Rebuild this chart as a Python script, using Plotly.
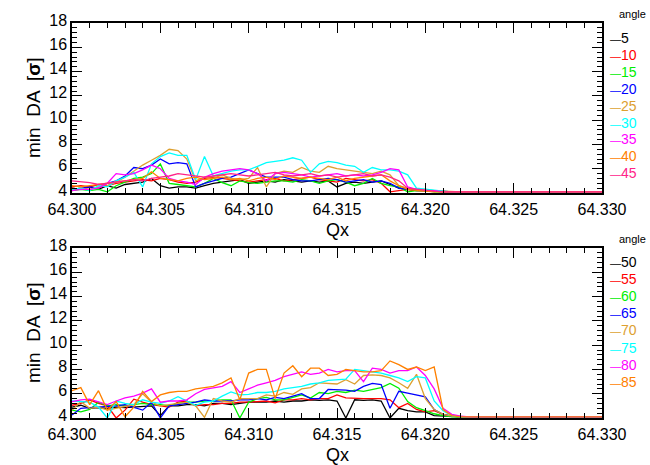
import plotly.graph_objects as go

# ---------------- data ----------------
qx = [64.3000, 64.3005, 64.3010, 64.3015, 64.3020, 64.3025, 64.3030, 64.3035, 64.3040, 64.3045,
      64.3050, 64.3055, 64.3060, 64.3065, 64.3070, 64.3075, 64.3080, 64.3085, 64.3090, 64.3095,
      64.3100, 64.3105, 64.3110, 64.3115, 64.3120, 64.3125, 64.3130, 64.3135, 64.3140, 64.3145,
      64.3150, 64.3155, 64.3160, 64.3165, 64.3170, 64.3175, 64.3180, 64.3185, 64.3190, 64.3195,
      64.3200, 64.3205, 64.3210, 64.3215, 64.3220, 64.3225, 64.3230, 64.3235, 64.3240, 64.3245,
      64.3250, 64.3255, 64.3260, 64.3265, 64.3270, 64.3275, 64.3280, 64.3285, 64.3290, 64.3295,
      64.3300]

angles_top = ["5", "10", "15", "20", "25", "30", "35", "40", "45"]
angles_bot = ["50", "55", "60", "65", "70", "75", "80", "85"]

da_5 = [4.4, 4.3, 4.5, 4.3, 4.6, 4.4, 4.7, 4.8, 4.9, 5.2,
        4.6, 4.4, 4.5, 4.5, 4.4, 4.6, 4.8, 4.9, 5.0, 5.1,
        4.8, 4.9, 5.0, 4.9, 5.1, 5.0, 4.9, 5.0, 4.9, 5.0,
        4.5, 4.8, 4.9, 4.8, 4.9, 5.0, 4.7, 4.4, 4.3, 4.2,
        4.2, 4.15, 4.1, 4.1, 4.1, 4.1, 4.1, 4.1, 4.1, 4.1,
        4.1, 4.1, 4.1, 4.1, 4.1, 4.1, 4.1, 4.1, 4.1, 4.1, 4.1]
da_10 = [4.5, 4.6, 4.5, 4.7, 4.6, 4.8, 4.9, 5.0, 5.1, 5.0,
         5.2, 5.1, 4.9, 4.8, 4.9, 5.2, 5.3, 5.2, 5.1, 5.0,
         4.9, 5.0, 5.1, 5.2, 5.0, 5.1, 5.2, 5.3, 5.1, 5.0,
         4.9, 5.2, 5.1, 5.0, 5.1, 4.8, 4.1, 4.2, 4.3, 4.2,
         4.2, 4.15, 4.1, 4.1, 4.1, 4.1, 4.1, 4.1, 4.1, 4.1,
         4.1, 4.1, 4.1, 4.1, 4.1, 4.1, 4.1, 4.1, 4.1, 4.1, 4.1]
da_15 = [4.2, 4.3, 4.2, 4.3, 4.1, 4.6, 4.9, 5.2, 5.3, 5.6,
         6.4, 4.8, 4.7, 4.6, 4.5, 4.8, 5.2, 4.85, 4.6, 5.0,
         4.85, 4.8, 4.9, 5.0, 5.0, 4.9, 5.1, 5.0, 4.8, 5.0,
         5.1, 4.9, 4.6, 4.8, 5.2, 4.8, 4.6, 4.5, 4.1, 4.2,
         4.2, 4.1, 4.1, 4.1, 4.1, 4.1, 4.1, 4.1, 4.1, 4.1,
         4.1, 4.1, 4.1, 4.1, 4.1, 4.1, 4.1, 4.1, 4.1, 4.1, 4.1]
da_20 = [4.3, 4.4, 4.5, 4.4, 4.8, 5.0, 5.4, 6.1, 6.0, 6.3,
         6.8, 6.4, 6.5, 6.4, 4.5, 4.8, 5.0, 5.2, 5.3, 5.6,
         5.9, 5.6, 5.3, 5.3, 5.3, 5.1, 5.0, 5.0, 5.1, 5.2,
         5.1, 4.9, 5.0, 5.1, 4.9, 5.0, 4.8, 4.4, 4.3, 4.3,
         4.2, 4.2, 4.15, 4.1, 4.1, 4.1, 4.1, 4.1, 4.1, 4.1,
         4.1, 4.1, 4.1, 4.1, 4.1, 4.1, 4.1, 4.1, 4.1, 4.1, 4.1]
da_25 = [4.3, 4.4, 4.3, 4.5, 4.6, 4.9, 5.3, 5.8, 6.3, 6.7,
         7.1, 7.6, 7.5, 6.8, 5.0, 5.3, 5.2, 5.5, 5.2, 5.1,
         5.2, 6.1, 4.5, 5.6, 5.8, 5.7, 6.1, 5.8, 5.7, 6.2,
         6.0, 5.9, 5.8, 5.7, 5.6, 5.8, 5.5, 4.6, 4.4, 4.3,
         4.3, 4.2, 4.15, 4.1, 4.1, 4.1, 4.1, 4.1, 4.1, 4.1,
         4.1, 4.1, 4.1, 4.1, 4.1, 4.1, 4.1, 4.1, 4.1, 4.1, 4.1]
da_30 = [4.3, 4.4, 4.2, 4.6, 4.5, 5.0, 5.3, 5.7, 4.5, 6.4,
         7.0, 7.3, 7.1, 7.1, 5.1, 7.0, 5.4, 5.6, 5.8, 5.9,
         5.9, 6.2, 6.5, 6.6, 6.7, 6.9, 6.7, 5.7, 6.4, 6.6,
         6.5, 6.3, 6.2, 5.7, 6.1, 5.9, 5.9, 5.8, 5.5, 4.4,
         4.3, 4.2, 4.15, 4.1, 4.1, 4.1, 4.1, 4.1, 4.1, 4.1,
         4.1, 4.1, 4.1, 4.1, 4.1, 4.1, 4.1, 4.1, 4.1, 4.1, 4.1]
da_35 = [4.2, 4.3, 4.3, 4.4, 4.8, 5.6, 5.5, 5.6, 5.9, 6.3,
         6.0, 5.2, 5.0, 4.9, 4.7, 5.3, 5.6, 5.8, 5.9, 6.0,
         5.9, 5.6, 5.0, 5.6, 5.7, 5.6, 5.5, 5.3, 5.4, 5.5,
         5.6, 5.4, 5.5, 5.4, 5.5, 5.7, 6.0, 5.9, 4.5, 4.3,
         4.2, 4.2, 4.1, 4.1, 4.1, 4.1, 4.1, 4.1, 4.1, 4.1,
         4.1, 4.1, 4.1, 4.1, 4.1, 4.1, 4.1, 4.1, 4.1, 4.1, 4.1]
da_40 = [4.6, 4.5, 4.6, 4.7, 4.8, 4.9, 5.0, 5.1, 5.2, 5.75,
         5.2, 5.1, 5.0, 5.2, 5.3, 5.1, 5.2, 5.3, 5.1, 5.2,
         5.0, 5.2, 5.3, 5.1, 5.4, 5.3, 5.2, 5.3, 5.2, 5.1,
         5.3, 5.0, 5.2, 5.3, 5.4, 5.5, 5.0, 4.6, 4.3, 4.2,
         4.15, 4.1, 4.1, 4.1, 4.1, 4.1, 4.1, 4.1, 4.1, 4.1,
         4.1, 4.1, 4.1, 4.1, 4.1, 4.1, 4.1, 4.1, 4.1, 4.1, 4.1]
da_45 = [5.0, 4.95, 4.85, 4.7, 4.8, 4.9, 5.0, 5.1, 5.0, 5.2,
         5.3, 5.4, 5.6, 5.5, 5.4, 5.3, 5.4, 5.5, 5.6, 5.5,
         5.4, 5.5, 5.6, 5.7, 5.5, 5.4, 5.5, 5.6, 5.4, 5.5,
         5.3, 5.4, 5.5, 5.6, 5.4, 5.5, 5.3, 5.0, 4.4, 4.3,
         4.2, 4.15, 4.1, 4.1, 4.1, 4.1, 4.1, 4.1, 4.1, 4.1,
         4.1, 4.1, 4.1, 4.1, 4.1, 4.1, 4.1, 4.1, 4.1, 4.1, 4.1]

da_50 = [4.9, 5.05, 4.8, 4.85, 4.8, 4.9, 4.85, 4.9, 4.9, 5.0,
         4.2, 5.0, 5.0, 5.1, 5.1, 5.0, 5.2, 5.2, 5.1, 5.2,
         5.3, 5.3, 5.3, 5.4, 5.3, 5.4, 5.4, 5.5, 5.45, 5.5,
         5.4, 4.0, 5.5, 5.45, 5.5, 5.4, 4.0, 4.8, 4.6, 4.5,
         4.5, 4.2, 4.15, 4.1, 4.1, 4.1, 4.1, 4.1, 4.1, 4.1,
         4.1, 4.1, 4.1, 4.1, 4.1, 4.1, 4.1, 4.1, 4.1, 4.1, 4.1]
da_55 = [5.05, 5.2, 5.5, 5.2, 5.0, 4.0, 4.65, 5.55, 5.3, 5.1,
         5.0, 4.9, 5.3, 5.4, 5.0, 5.1, 5.1, 5.2, 5.2, 5.3,
         5.3, 5.35, 5.4, 5.25, 5.5, 5.5, 5.6, 5.5, 5.6, 5.6,
         5.9, 5.65, 5.6, 5.6, 5.6, 5.6, 5.5, 4.85, 5.2, 4.7,
         4.5, 4.6, 4.3, 4.15, 4.1, 4.1, 4.1, 4.1, 4.1, 4.1,
         4.1, 4.1, 4.1, 4.1, 4.1, 4.1, 4.1, 4.1, 4.1, 4.1, 4.1]
da_60 = [4.65, 4.5, 4.7, 5.3, 5.0, 5.1, 5.0, 5.1, 5.2, 5.1,
         5.1, 5.0, 5.2, 5.3, 5.3, 5.4, 5.4, 5.5, 5.5, 4.0,
         5.3, 5.6, 5.7, 5.5, 5.5, 5.7, 5.9, 5.65, 6.1, 6.0,
         6.2, 6.1, 6.3, 6.2, 6.35, 6.5, 6.85, 6.45, 5.35, 4.85,
         4.6, 4.35, 4.2, 4.1, 4.1, 4.1, 4.1, 4.1, 4.1, 4.1,
         4.1, 4.1, 4.1, 4.1, 4.1, 4.1, 4.1, 4.1, 4.1, 4.1, 4.1]
da_65 = [4.25, 4.8, 4.85, 4.9, 4.9, 5.0, 5.1, 4.9, 4.65, 5.3,
         4.0, 5.0, 5.1, 5.2, 5.3, 5.5, 5.4, 5.4, 5.4, 5.5,
         5.5, 5.6, 5.5, 5.7, 5.6, 5.8, 6.0, 5.6, 5.6, 6.35,
         6.35, 6.3, 6.2, 6.6, 6.85, 6.75, 4.8, 6.2, 6.05, 5.9,
         5.75, 4.7, 4.3, 4.15, 4.1, 4.1, 4.1, 4.1, 4.1, 4.1,
         4.1, 4.1, 4.1, 4.1, 4.1, 4.1, 4.1, 4.1, 4.1, 4.1, 4.1]
da_70 = [4.65, 5.35, 4.8, 4.9, 4.65, 4.8, 5.0, 5.1, 6.0, 5.3,
         5.0, 5.1, 5.2, 5.3, 5.0, 4.05, 5.6, 5.4, 5.3, 5.6,
         5.6, 5.6, 5.9, 5.8, 6.1, 5.95, 6.4, 6.5, 6.9, 6.85,
         6.8, 7.15, 6.8, 7.5, 7.55, 7.5, 7.3, 6.9, 6.45, 7.6,
         5.6, 4.7, 4.3, 4.15, 4.1, 4.1, 4.1, 4.1, 4.1, 4.1,
         4.1, 4.1, 4.1, 4.1, 4.1, 4.1, 4.1, 4.1, 4.1, 4.1, 4.1]
da_75 = [5.4, 5.35, 5.3, 4.9, 4.0, 5.4, 5.2, 5.1, 5.5, 5.3,
         5.2, 5.4, 5.75, 5.4, 5.05, 5.3, 5.4, 5.8, 6.15, 5.9,
         5.95, 6.1, 6.1, 6.2, 6.4, 6.5, 6.6, 6.8, 6.9, 7.1,
         7.15, 7.2, 8.0, 7.9, 7.8, 7.7, 7.5, 7.3, 7.0, 7.4,
         7.3, 5.4, 4.6, 4.2, 4.1, 4.1, 4.1, 4.1, 4.1, 4.1,
         4.1, 4.1, 4.1, 4.1, 4.1, 4.1, 4.1, 4.1, 4.1, 4.1, 4.1]
da_80 = [5.35, 5.5, 5.55, 5.35, 5.1, 5.4, 5.65, 5.8, 6.05, 6.4,
         5.3, 5.4, 5.4, 5.5, 6.0, 6.35, 6.5, 6.6, 7.0, 6.1,
         6.4, 6.7, 6.9, 7.1, 7.4, 7.6, 7.8, 7.6, 7.7, 8.0,
         7.8, 7.9, 7.9, 7.0, 8.1, 8.0, 7.7, 7.9, 7.9, 8.2,
         7.5, 6.4, 4.8, 4.3, 4.15, 4.1, 4.1, 4.1, 4.1, 4.1,
         4.1, 4.1, 4.1, 4.1, 4.1, 4.1, 4.1, 4.1, 4.1, 4.1, 4.1]
da_85 = [6.25, 6.5, 5.1, 6.25, 4.65, 5.35, 4.1, 4.9, 6.2, 5.35,
         5.9, 6.1, 6.2, 6.2, 6.4, 6.5, 6.6, 6.9, 7.3, 5.5,
         7.7, 8.0, 8.0, 5.6, 7.7, 8.3, 7.4, 8.1, 8.1, 7.5,
         7.6, 8.0, 7.9, 7.8, 7.8, 7.9, 8.7, 8.4, 8.0, 8.2,
         7.9, 8.2, 4.7, 4.2, 4.1, 4.1, 4.1, 4.1, 4.1, 4.1,
         4.1, 4.1, 4.1, 4.1, 4.1, 4.1, 4.1, 4.1, 4.1, 4.1, 4.1]

series_top = [da_5, da_10, da_15, da_20, da_25, da_30, da_35, da_40, da_45]
series_bot = [da_50, da_55, da_60, da_65, da_70, da_75, da_80, da_85]

colors = ["#000000", "#FF0000", "#00EE00", "#0000FF", "#DDA030",
          "#00FFFF", "#FF00FF", "#FF8000", "#FF2288"]

y_ticks = [4, 6, 8, 10, 12, 14, 16, 18]
x_ticks = [64.300, 64.305, 64.310, 64.315, 64.320, 64.325, 64.330]

for s in series_top + series_bot:
    assert len(s) == len(qx), len(s)

# ---------------- figure ----------------
W, H = 650, 465
ML, MR, MT, MB = 72, 48, 23, 47
PH = H - MT - MB  # 395
top_dom = [(418 - 193) / PH, 1.0]
bot_dom = [0.0, 170 / PH]

fig = go.Figure()
for vals, c in zip(series_top, colors):
    fig.add_trace(go.Scatter(x=qx, y=vals, mode="lines", xaxis="x", yaxis="y",
                             line=dict(color=c, width=1.3), showlegend=False))
for vals, c in zip(series_bot, colors):
    fig.add_trace(go.Scatter(x=qx, y=vals, mode="lines", xaxis="x2", yaxis="y2",
                             line=dict(color=c, width=1.3), showlegend=False))

font_family = "Liberation Sans, Arial, sans-serif"

xcommon = dict(range=[64.300, 64.330], tickvals=x_ticks,
               ticktext=[f"{v:.3f}" for v in x_ticks],
               ticks="inside", ticklen=10, tickwidth=1, tickcolor="black",
               minor=dict(dtick=0.001, tick0=64.300, ticks="inside", ticklen=5,
                          tickcolor="black", tickwidth=1),
               showline=True, linecolor="black", linewidth=1.5, mirror="ticks",
               showgrid=False, zeroline=False, automargin=False,
               ticklabelstandoff=1,
               tickfont=dict(family=font_family, size=16, color="black"))
ycommon = dict(range=[4, 18], tickvals=y_ticks, ticktext=[str(v) for v in y_ticks],
               ticks="inside", ticklen=10, tickwidth=1, tickcolor="black",
               minor=dict(dtick=0.4, tick0=4, ticks="inside", ticklen=5,
                          tickcolor="black", tickwidth=1),
               showline=True, linecolor="black", linewidth=1.5, mirror="ticks",
               showgrid=False, zeroline=False, automargin=False,
               ticklabelshift=-3,
               tickfont=dict(family=font_family, size=16, color="black"))

fig.update_layout(
    width=W, height=H,
    margin=dict(l=ML, r=MR, t=MT, b=MB, pad=0),
    paper_bgcolor="white", plot_bgcolor="white",
    xaxis=dict(domain=[0, 1], anchor="y", **xcommon),
    yaxis=dict(domain=top_dom, anchor="x", **ycommon),
    xaxis2=dict(domain=[0, 1], anchor="y2", **xcommon),
    yaxis2=dict(domain=bot_dom, anchor="x2", **ycommon),
)

def px_to_paper_y(py):
    return (H - MB - py) / PH

def px_to_paper_x(px):
    return (px - ML) / (W - ML - MR)

anns = []
# axis titles placed as annotations
for panel_bottom, panel_mid in [(193, 108), (418, 333)]:
    anns.append(dict(x=0.5, y=px_to_paper_y(panel_bottom + 37), xref="paper", yref="paper",
                     text="Qx", showarrow=False, xanchor="center", yanchor="middle",
                     font=dict(family=font_family, size=18, color="black")))
    anns.append(dict(x=px_to_paper_x(33), y=px_to_paper_y(panel_mid), xref="paper", yref="paper",
                     text="min  DA  [<b>σ</b>]", textangle=-90, showarrow=False,
                     xanchor="center", yanchor="middle",
                     font=dict(family=font_family, size=19, color="black")))

# legend built as annotations (colored dash + angle)
for title_py, labels, start_py, step in [(14, angles_top, 38, 16.9), (239, angles_bot, 262, 17.1)]:
    anns.append(dict(x=px_to_paper_x(648), y=px_to_paper_y(title_py), xref="paper", yref="paper",
                     text="angle", showarrow=False, xanchor="right", yanchor="middle",
                     font=dict(family=font_family, size=11, color="black")))
    for k, lab in enumerate(labels):
        anns.append(dict(x=px_to_paper_x(608), y=px_to_paper_y(start_py + k * step),
                         xref="paper", yref="paper",
                         text="<span style='font-size:11px'>\u2014</span>" + lab,
                         showarrow=False, xanchor="left", yanchor="middle",
                         font=dict(family=font_family, size=14, color=colors[k])))
fig.update_layout(annotations=anns)

fig.write_html("out.html")
